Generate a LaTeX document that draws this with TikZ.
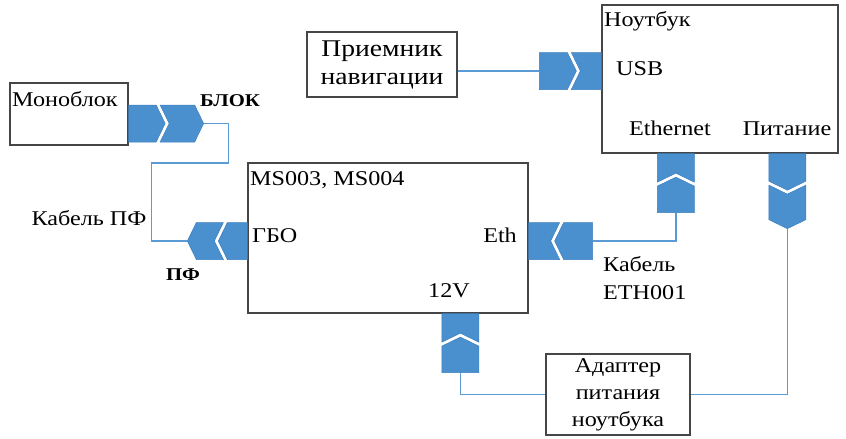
\documentclass[tikz,border=0pt]{standalone}
\usepackage{fontspec}
\setmainfont{Liberation Serif}[FakeStretch=1.15]
\usepackage{tikz}
\usetikzlibrary{calc}
\definecolor{plugblue}{RGB}{74,144,207}
\definecolor{plugedge}{RGB}{60,126,190}
\definecolor{cableblue}{RGB}{91,155,213}
\definecolor{boxgray}{RGB}{70,70,70}
\tikzset{unit/.style={draw=boxgray, line width=1.3pt, rectangle, inner sep=0pt, align=center, font=\fontsize{21}{27}\selectfont}}
\tikzset{lbl/.style={inner sep=0pt, font=\fontsize{21}{28}\selectfont}}
\tikzset{tag/.style={inner sep=0pt, font=\fontsize{18}{22}\selectfont\bfseries}}
\tikzset{cable/.style={draw=cableblue, line width=1.5pt}}
\tikzset{plugpart/.style={fill=plugblue, draw=plugedge, line width=0.5pt}}
\tikzset{plug length/.store in=\plugL, plug length=72}
\tikzset{plugout/.pic={
    \pgfmathsetmacro\pa{\plugL/2-1}
    \path[plugpart] (0,-18.5) -- (\pa-9,-18.5) -- (\pa,0) -- (\pa-9,18.5) -- (0,18.5) -- cycle;
    \path[plugpart] (\pa-5,-18.5) -- (\plugL-9,-18.5) -- (\plugL,0) -- (\plugL-9,18.5) -- (\pa-5,18.5) -- (\pa+4,0) -- cycle;
    \coordinate (-tip) at (\plugL,0);
}}
\tikzset{plugin/.pic={
    \pgfmathsetmacro\pa{\plugL/2-1}
    \path[plugpart] (0,-18.5) -- (\pa,-18.5) -- (\pa-9,0) -- (\pa,18.5) -- (0,18.5) -- cycle;
    \path[plugpart] (\pa+4,-18.5) -- (\plugL,-18.5) -- (\plugL,18.5) -- (\pa+4,18.5) -- (\pa-5,0) -- cycle;
    \coordinate (-end) at (\plugL,0);
}}

\begin{document}
\begin{tikzpicture}[x=1pt, y=-1pt]
        \useasboundingbox (0,0) rectangle (846,439);

        % Units
        \node[unit, minimum width=118pt, minimum height=62pt] (monoblock) at (69,114) {};
        \node[unit, minimum width=150pt, minimum height=65pt, font=\fontsize{24}{28}\selectfont] (receiver) at (382,64.5) {Приемник\\навигации};
        \node[unit, minimum width=236pt, minimum height=148pt] (laptop) at (720,79) {};
        \node[unit, minimum width=280pt, minimum height=150pt] (ms) at (388,238) {};
        \node[unit, minimum width=144pt, minimum height=81pt] (adapter) at (618,394.5) {Адаптер\\питания\\ноутбука};

        % Plugs
        \pic[plug length=75] (blk) at ($(monoblock.east)+(0,9.5)$) {plugout};
        \pic[rotate=180, plug length=60] (pf) at ($(ms.west)+(0,3)$) {plugout};
        \pic[rotate=180, plug length=62] (usb) at ($(laptop.west)+(0,-8)$) {plugin};
        \pic[plug length=64] (ethm) at ($(ms.east)+(0,3)$) {plugin};
        \pic[rotate=-90, plug length=59] (ethl) at ($(laptop.south west)+(74.5,0)$) {plugin};
        \pic[rotate=-90, plug length=75] (pwr) at ($(laptop.south west)+(186,0)$) {plugout};
        \pic[rotate=-90, plug length=59] (v12) at ($(ms.south west)+(213,0)$) {plugin};

        % Cables
        \draw[cable] (blk-tip) -| ++(25,39.5) -| ($(pf-tip)+(-36,0)$) -- (pf-tip);
        \draw[cable] (receiver.east |- usb-end) -- (usb-end);
        \draw[cable] (ethl-end) |- (ethm-end);
        \draw[cable] (pwr-tip) |- (adapter.east);
        \draw[cable] (v12-end) |- (adapter.west);

        % Labels
        \node[lbl, anchor=base west] (monoblock-name) at (12,106) {Моноблок};
        \node[tag, anchor=base] (blk-label) at (230,106) {БЛОК};
        \node[lbl, anchor=base] (pfcable-label) at (89,225) {Кабель ПФ};
        \node[tag, anchor=base] (pf-label) at (183,280) {ПФ};
        \node[lbl, anchor=base west] (laptop-name) at (604,27) {Ноутбук};
        \node[lbl, anchor=base west] (usb-label) at (616,75) {USB};
        \node[lbl, anchor=base] (eth-label) at (670,135) {Ethernet};
        \node[lbl, anchor=base] (pwr-label) at (787,135) {Питание};
        \node[lbl, anchor=base west] (ms-name) at (250,185) {MS003, MS004};
        \node[lbl, anchor=base west] (gbo-label) at (252,242) {ГБО};
        \node[lbl, anchor=base east] (eth-port) at (517,242) {Eth};
        \node[lbl, anchor=base] (v12-label) at (449,297) {12V};
        \node[lbl, anchor=west, align=left] (ethcable-label) at (603,278) {Кабель\\ETH001};
\end{tikzpicture}
\end{document}
